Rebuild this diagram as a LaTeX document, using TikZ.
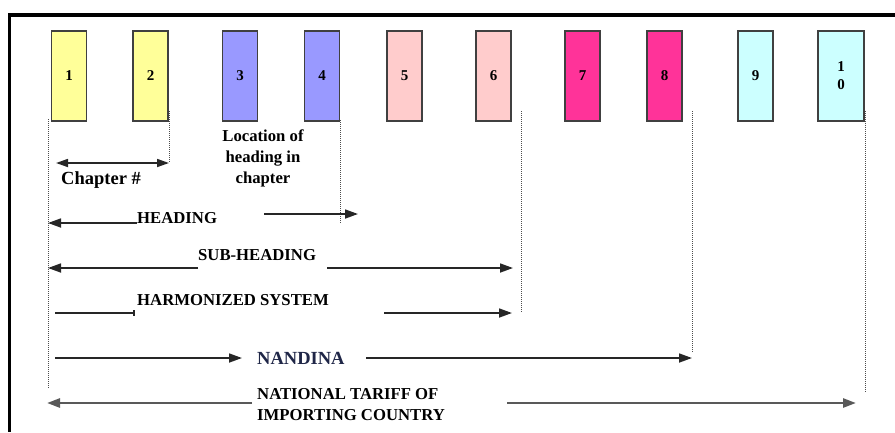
\documentclass[tikz,border=0pt]{standalone}
\usepackage{fontspec}
\setmainfont{Liberation Serif}
\usetikzlibrary{arrows.meta}
\definecolor{boxyellow}{HTML}{FFFF99}
\definecolor{boxblue}{HTML}{9999FF}
\definecolor{boxpink}{HTML}{FFCCCC}
\definecolor{boxmagenta}{HTML}{FF3399}
\definecolor{boxcyan}{HTML}{CCFFFF}
\definecolor{nandina}{HTML}{1F2647}
\tikzset{
  digitbox/.style={draw=black!75, line width=1.2pt, minimum width=35pt,
    minimum height=90pt, inner sep=0pt, align=center,
    font=\bfseries\fontsize{15}{18}\selectfont},
  guide/.style={densely dotted, line width=1pt, black!70},
  arr/.style={line width=1.7pt, black!85, -{Triangle[length=13pt,width=9pt]}},
  lbl/.style={font=\bfseries\fontsize{16.7}{21}\selectfont, inner sep=0pt},
}
\begin{document}
\begin{tikzpicture}[x=1pt,y=-1pt]
  \useasboundingbox (0,0) rectangle (895,432);
  \draw[line width=3.8pt] (895,15) -- (9.5,15) -- (9.5,432);
  % the ten digits
  \foreach \i/\x/\c in {1/69/boxyellow, 2/150.5/boxyellow, 3/240/boxblue,
      4/322/boxblue, 5/404.5/boxpink, 6/493.5/boxpink, 7/582.5/boxmagenta,
      8/664.5/boxmagenta, 9/755.5/boxcyan}
    \node[digitbox, fill=\c] (b\i) at (\x,76) {\i};
  \node[digitbox, fill=boxcyan, minimum width=46pt] (b10) at (841,76) {1\\0};
  % dotted guides
  \foreach \n/\x/\ya/\yb in {1/48/119/388, 2/169/111/163, 3/340/120/223,
      4/521/111/313, 5/692/111/352, 6/865/111/393} {
    \coordinate (g\n) at (\x,\ya);
    \draw[guide] (g\n) -- (\x,\yb);
  }
  % labels
  \node[lbl, anchor=west, font=\bfseries\fontsize{18.5}{21}\selectfont]
    (chap) at (61,180) {Chapter \#};
  \node[lbl, align=center] (loc) at (263,158) {Location of\\heading in\\chapter};
  \node[lbl, anchor=west] (head) at (137,218) {HEADING};
  \node[lbl, anchor=west] (sub) at (198,255) {SUB-HEADING};
  \node[lbl, anchor=west] (hs) at (137,300) {HARMONIZED SYSTEM};
  \node[lbl, anchor=west, text=nandina, font=\bfseries\fontsize{18.5}{20}\selectfont]
    (nan) at (257,358) {NANDINA};
  \node[lbl, anchor=west, align=left] (nat) at (257,405)
    {NATIONAL TARIFF OF\\IMPORTING COUNTRY};
  % arrows
  \coordinate (chL) at (56,163);
  \draw[arr, {Triangle[length=12pt,width=8pt]}-{Triangle[length=12pt,width=8pt]}]
    (chL) -- (g2 |- chL);
  \coordinate (hdL) at (48,223);
  \coordinate (hdA) at (264,214);
  \coordinate (hdB) at (358,214);
  \draw[arr] (head.west |- hdL) -- (hdL);
  \draw[arr] (hdA) -- (hdB);
  \coordinate (shL) at (48,268);
  \coordinate (shA) at (327,268);
  \coordinate (shB) at (513,268);
  \draw[arr] (sub.west |- shL) -- (shL);
  \draw[arr] (shA) -- (shB);
  \coordinate (hsL) at (55,313);
  \coordinate (hsA) at (384,313);
  \coordinate (hsB) at (512,313);
  \draw[line width=1.6pt, black!85, -{Bar[width=6pt]}] (hsL) -- ([xshift=-2pt]hs.west |- hsL);
  \draw[arr] (hsA) -- (hsB);
  \coordinate (naL) at (55,358);
  \coordinate (naA) at (242,358);
  \coordinate (naB) at (366,358);
  \draw[arr] (naL) -- (naA);
  \draw[arr] (naB) -- (g5 |- naB);
  \coordinate (ntL) at (47,403);
  \coordinate (ntA) at (252,403);
  \coordinate (ntB) at (507,403);
  \coordinate (ntC) at (856,403);
  \draw[arr, black!65, line width=2.6pt] (ntA) -- (ntL);
  \draw[arr, black!65, line width=2.6pt] (ntB) -- (ntC);
\end{tikzpicture}
\end{document}
